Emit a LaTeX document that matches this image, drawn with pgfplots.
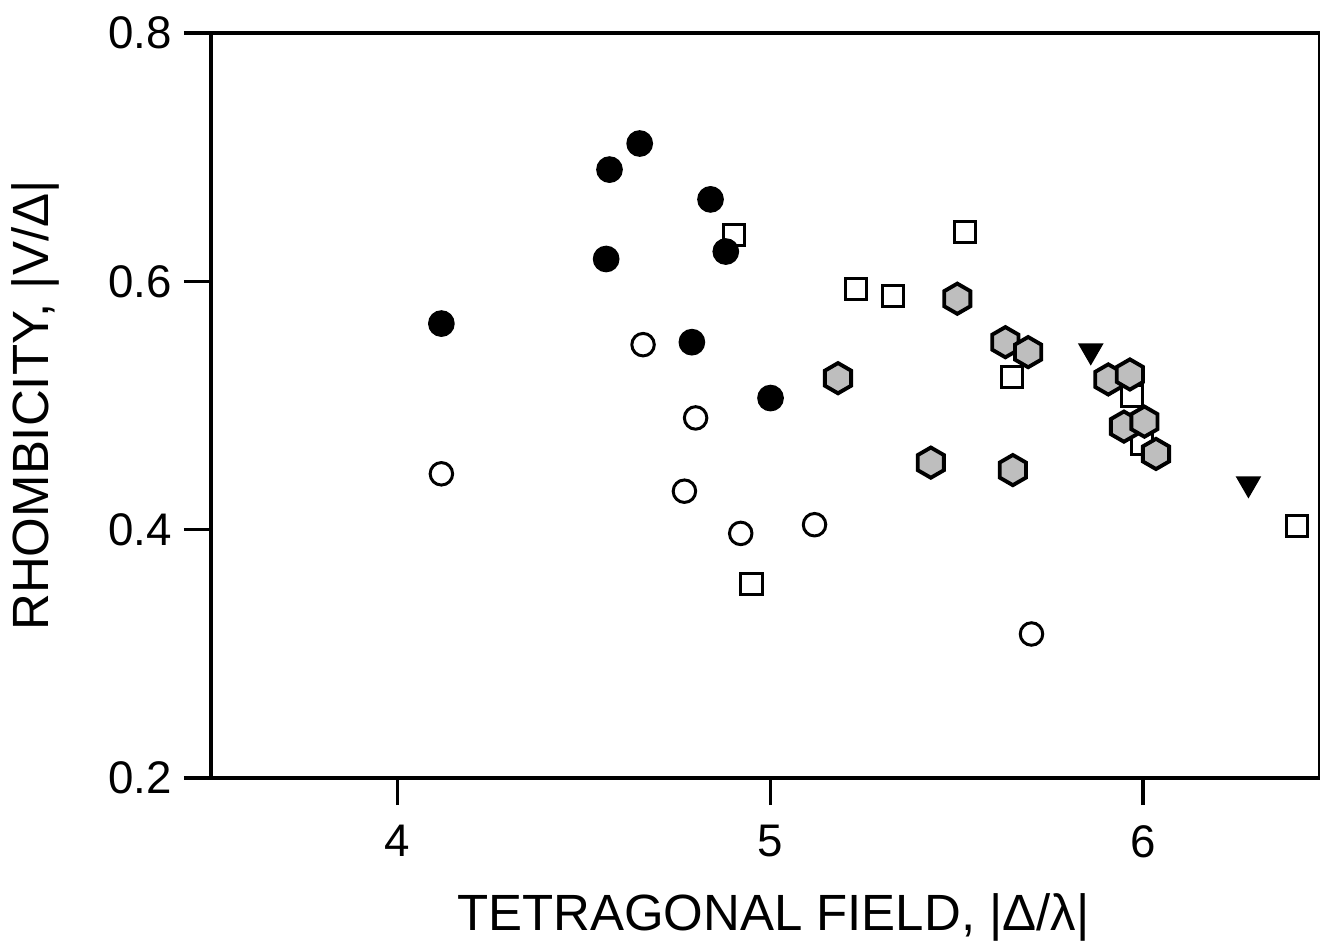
\documentclass[border=0pt]{standalone}
\usepackage{fontspec}
\setmainfont{Liberation Sans}
\usepackage{pgfplots}
\pgfplotsset{compat=1.18}

% pointy-top hexagon marker
\pgfdeclareplotmark{hexagon*}{%
  \pgfpathmoveto{\pgfqpointpolar{90}{\pgfplotmarksize}}%
  \pgfpathlineto{\pgfqpointpolar{150}{\pgfplotmarksize}}%
  \pgfpathlineto{\pgfqpointpolar{210}{\pgfplotmarksize}}%
  \pgfpathlineto{\pgfqpointpolar{270}{\pgfplotmarksize}}%
  \pgfpathlineto{\pgfqpointpolar{330}{\pgfplotmarksize}}%
  \pgfpathlineto{\pgfqpointpolar{30}{\pgfplotmarksize}}%
  \pgfpathclose
  \pgfusepathqfillstroke}

\definecolor{hexgray}{RGB}{190,190,190}

\begin{document}
\begin{tikzpicture}
\begin{axis}[
    name=ax,
    scale only axis,
    width=11.09cm, height=7.45cm,
    xmin=3.5, xmax=6.475,
    ymin=0.2, ymax=0.8,
    xtick={4,5,6},
    ytick={0.2,0.4,0.6,0.8},
    xtick pos=bottom, ytick pos=left,
    tick align=outside,
    major tick length=0.27cm,
    axis line style={line width=0.9pt},
    every tick/.style={black, line width=0.9pt},
    /pgf/number format/assume math mode=true,
    yticklabel style={/pgf/number format/.cd, fixed, fixed zerofill, precision=1},
    xticklabel style={yshift=-0.08cm},
    ticklabel style={font=\fontsize{13}{15}\selectfont},
    xlabel={TETRAGONAL FIELD, |Δ/λ|},
    ylabel={RHOMBICITY, |V/Δ|},
    label style={font=\fontsize{14.5}{17}\selectfont},
    xlabel style={at={(axis description cs:0.507,0)}, anchor=base, yshift=-1.52cm},
    ylabel style={at={(axis description cs:0,0.5)}, anchor=center, yshift=1.76cm},
]
% open circles
\addplot[only marks, mark=o, mark size=3.2pt, line width=0.85pt, black]
  coordinates {(4.659,0.549) (4.800,0.490) (4.118,0.445) (4.770,0.431)
               (4.921,0.397) (5.119,0.404) (5.701,0.316)};
% open squares
\addplot[only marks, mark=square*, mark size=3.0pt, line width=0.85pt, draw=black, fill=white]
  coordinates {(4.903,0.637) (5.231,0.594) (5.330,0.588) (5.522,0.640)
               (5.649,0.523) (5.971,0.508) (5.997,0.469) (6.414,0.403)
               (4.950,0.356)};
% filled circles
\addplot[only marks, mark=*, mark size=3.6pt, black]
  coordinates {(4.650,0.711) (4.569,0.690) (4.840,0.666) (4.560,0.618)
               (4.881,0.624) (4.118,0.566) (4.790,0.551) (5.001,0.506)};
% grey hexagons
\addplot[only marks, mark=hexagon*, mark size=4.3pt, line width=1.1pt, draw=black, fill=hexgray]
  coordinates {(5.182,0.522) (5.502,0.586) (5.631,0.551) (5.692,0.543)
               (5.907,0.521) (5.965,0.525) (5.949,0.483) (6.004,0.487)
               (6.035,0.461) (5.431,0.454) (5.651,0.448)};
% filled down triangles
\addplot[only marks, mark=triangle*, mark size=3.8pt, black, mark options={rotate=180}]
  coordinates {(5.860,0.544) (6.283,0.437)};
\end{axis}
\pgfresetboundingbox
\path[use as bounding box] ([xshift=-2.11cm,yshift=-1.62cm]ax.south west)
  rectangle ([xshift=11.09cm,yshift=7.78cm]ax.south west);
\end{tikzpicture}
\end{document}
